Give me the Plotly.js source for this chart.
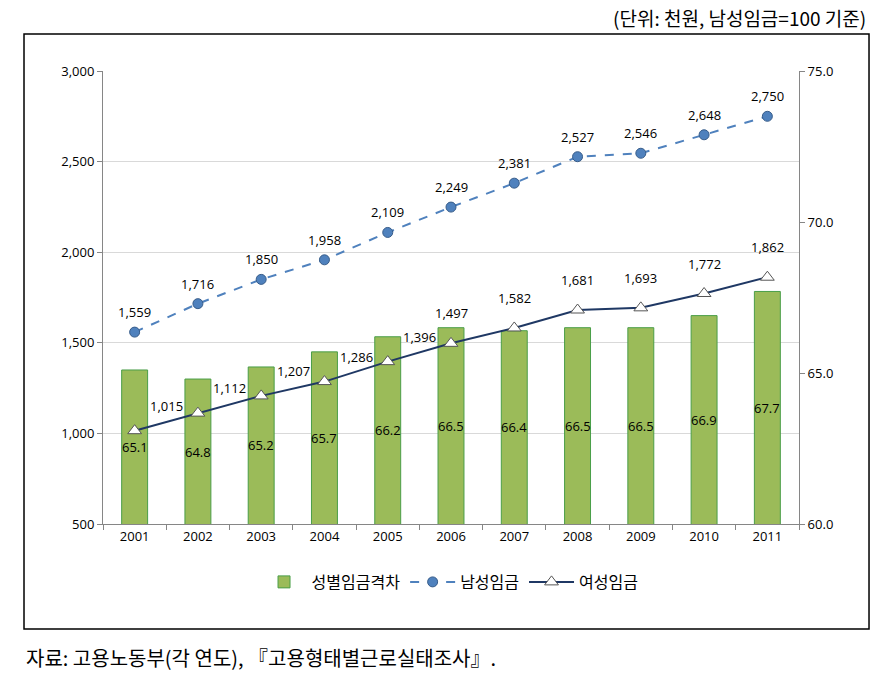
<!DOCTYPE html>
<html>
<head>
<meta charset="utf-8">
<script src="https://cdn.plot.ly/plotly-3.0.1.min.js"></script>
<style>html,body{margin:0;padding:0;background:#fff;}#chart{width:896px;height:681px;}</style>
</head>
<body>
<div id="chart"></div>
<script>
const years = ['2001','2002','2003','2004','2005','2006','2007','2008','2009','2010','2011'];
const gapRatio = [65.1, 64.8, 65.2, 65.7, 66.2, 66.5, 66.4, 66.5, 66.5, 66.9, 67.7];
const maleWage = [1559, 1716, 1850, 1958, 2109, 2249, 2381, 2527, 2546, 2648, 2750];
const femaleWage = [1015, 1112, 1207, 1286, 1396, 1497, 1582, 1681, 1693, 1772, 1862];
const seriesNames = ['성별임금격차', '남성임금', '여성임금'];
const unitNote = '(단위: 천원, 남성임금=100 기준)';
const sourceNote = '자료: 고용노동부(각 연도), 『고용형태별근로실태조사』.';

const FONT = 'Open Sans, Noto Sans CJK KR, sans-serif';
const KFONT = 'Noto Sans CJK KR, sans-serif';
const BAR_BASE = 60;

const traces = [
  {
    type: 'bar', name: seriesNames[0], x: years, y: gapRatio, yaxis: 'y',
    marker: {color: '#9BBB59', line: {color: '#4a9e48', width: 1}},
    hoverinfo: 'skip'
  },
  {
    type: 'scatter', mode: 'lines+markers', name: seriesNames[1], x: years, y: maleWage, yaxis: 'y2',
    line: {color: '#4F81BD', width: 2, dash: 'dash'},
    marker: {symbol: 'circle', size: 10, color: '#4F81BD', line: {color: '#385D8A', width: 1}}
  },
  {
    type: 'scatter', mode: 'lines+markers', name: seriesNames[2], x: years, y: femaleWage, yaxis: 'y2',
    line: {color: '#1F3864', width: 2},
    marker: {symbol: 'triangle-up', size: 12, color: '#ffffff', line: {color: '#555555', width: 1}}
  }
];

const fmt = v => v.toLocaleString('en-US');
const annotations = [];
years.forEach((yr, i) => {
  // category index i is the position of this year on the category axis
  annotations.push({x: i, y: (BAR_BASE + gapRatio[i]) / 2, xref: 'x', yref: 'y', text: gapRatio[i].toFixed(1),
    showarrow: false, font: {family: FONT, size: 13, color: '#000'}});
  annotations.push({x: i, y: maleWage[i], xref: 'x', yref: 'y2', text: fmt(maleWage[i]),
    showarrow: false, yshift: 20, font: {family: FONT, size: 13, color: '#000'}});
  const early = i < 5;
  annotations.push({x: i, y: femaleWage[i], xref: 'x', yref: 'y2', text: fmt(femaleWage[i]),
    showarrow: false, xshift: early ? 32 : 0, yshift: early ? 25 : 30,
    font: {family: FONT, size: 13, color: '#000'}});
});
annotations.push({xref: 'paper', yref: 'paper', x: 1.099, y: 1.119, xanchor: 'right', yanchor: 'middle',
  text: unitNote, showarrow: false, font: {family: KFONT, size: 19, color: '#000'}});
annotations.push({xref: 'paper', yref: 'paper', x: -0.113, y: -0.2936, xanchor: 'left', yanchor: 'middle',
  text: sourceNote, showarrow: false, font: {family: KFONT, size: 20, color: '#000'}});

const layout = {
  width: 896, height: 681,
  margin: {l: 103, r: 97, t: 71, b: 157},
  paper_bgcolor: '#fff', plot_bgcolor: 'rgba(0,0,0,0)',
  font: {family: FONT, size: 13, color: '#000'},
  showlegend: true,
  bargap: 0.59,
  xaxis: {
    type: 'category', range: [-0.5, years.length - 0.5], autorange: false,
    tickson: 'boundaries', ticks: 'outside', ticklen: 5, tickcolor: '#868686',
    showline: true, linecolor: '#868686', linewidth: 1, showgrid: false, tickangle: 0,
    tickfont: {family: FONT, size: 13, color: '#000'}
  },
  yaxis: {
    side: 'right', range: [60, 75], autorange: false, dtick: 5, tickformat: '.1f',
    ticks: 'outside', ticklen: 5, tickcolor: '#868686',
    showline: true, linecolor: '#868686', linewidth: 1, showgrid: false, zeroline: false,
    tickfont: {family: FONT, size: 13, color: '#000'}
  },
  yaxis2: {
    overlaying: 'y', side: 'left', range: [500, 3000], autorange: false, dtick: 500, tickformat: ',d',
    ticks: 'outside', ticklen: 5, tickcolor: '#868686',
    showline: true, linecolor: '#868686', linewidth: 1,
    showgrid: true, gridcolor: '#d9d9d9', gridwidth: 1, zeroline: false,
    tickfont: {family: FONT, size: 13, color: '#000'}
  },
  legend: {
    orientation: 'h', x: 0.4986, xanchor: 'center', y: -0.128, yanchor: 'middle',
    itemwidth: 45,
    font: {family: KFONT, size: 16, color: '#000'}, traceorder: 'normal'
  },
  shapes: [{
    type: 'rect', xref: 'paper', yref: 'paper',
    x0: -0.1135, x1: 1.1006, y0: -0.2318, y1: 1.0817,
    line: {color: '#000', width: 1.5}, fillcolor: 'rgba(0,0,0,0)', layer: 'below'
  }],
  annotations: annotations
};

Plotly.newPlot('chart', traces, layout, {displayModeBar: false, staticPlot: true});
</script>
</body>
</html>
